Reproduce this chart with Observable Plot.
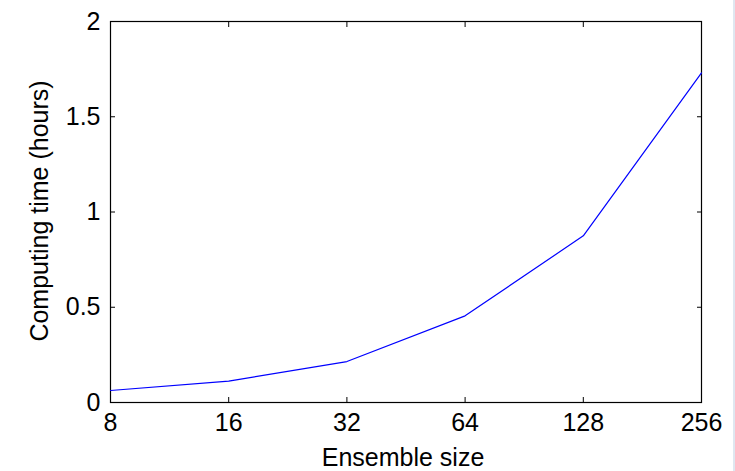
<!DOCTYPE html>
<html>
<head>
<meta charset="utf-8">
<script src="https://cdn.jsdelivr.net/npm/d3@7"></script>
<script src="https://cdn.jsdelivr.net/npm/@observablehq/plot@0.6"></script>
<style>
  html, body { margin: 0; padding: 0; background: #ffffff; }
  #chart { width: 733px; height: 471px; border-right: 2px solid #dfe7f0; }
  svg { display: block; }
</style>
</head>
<body>
<div id="chart"></div>
<script>
const ensembleSize = [8, 16, 32, 64, 128, 256];
const computingHours = [0.063, 0.112, 0.215, 0.455, 0.875, 1.73];
const xTicks = [8, 16, 32, 64, 128, 256];
const yTicks = [0, 0.5, 1, 1.5, 2];
const xLabel = "Ensemble size";
const yLabel = "Computing time (hours)";

const data = ensembleSize.map((s, i) => ({size: s, hours: computingHours[i]}));
const font = "Liberation Sans, Arial, sans-serif";
const blank = () => "";

const chart = Plot.plot({
  width: 733,
  height: 471,
  marginLeft: 110,
  marginRight: 32,
  marginTop: 21,
  marginBottom: 69,
  style: {fontFamily: font, fontSize: "25px", color: "#000", background: "#fff"},
  x: {type: "log", base: 2, domain: [8, 256]},
  y: {domain: [0, 2]},
  marks: [
    Plot.frame({stroke: "#000", strokeWidth: 1.2}),
    // tick labels
    Plot.axisX(xTicks, {tickSize: 0, tickPadding: 11, tickFormat: d => String(d), label: null, fontSize: 25}),
    Plot.axisY(yTicks, {tickSize: 0, tickPadding: 10, tickFormat: d => String(d), label: null, fontSize: 25}),
    // inward ticks on all four sides
    Plot.axisX(xTicks, {anchor: "bottom", tickSize: -5, tickFormat: blank, label: null, stroke: "#000"}),
    Plot.axisX(xTicks, {anchor: "top", tickSize: -5, tickFormat: blank, label: null, stroke: "#000"}),
    Plot.axisY(yTicks, {anchor: "left", tickSize: -5, tickFormat: blank, label: null, stroke: "#000"}),
    Plot.axisY(yTicks, {anchor: "right", tickSize: -5, tickFormat: blank, label: null, stroke: "#000"}),
    Plot.line(data, {x: "size", y: "hours", stroke: "#0000ff", strokeWidth: 1.2}),
    Plot.text([xLabel], {frameAnchor: "bottom", lineAnchor: "bottom", dy: 63, dx: -3, fontSize: 25, fill: "#000"}),
    Plot.text([yLabel], {frameAnchor: "left", textAnchor: "middle", lineAnchor: "middle", rotate: -90, dx: -71, dy: -1, fontSize: 25, fill: "#000"})
  ]
});
document.getElementById("chart").appendChild(chart);
</script>
</body>
</html>
